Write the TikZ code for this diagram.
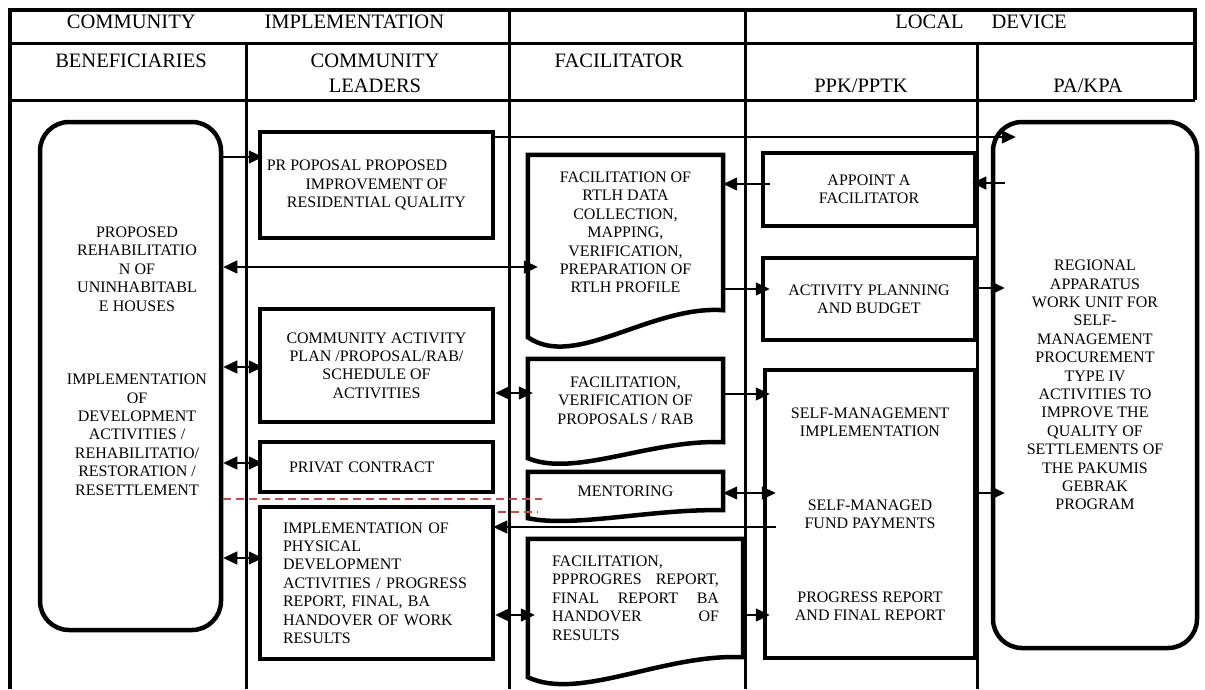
\documentclass[tikz,border=0pt]{standalone}
\usepackage{fontspec}
\setmainfont{Liberation Serif}
\usetikzlibrary{arrows.meta,calc}
\setlength\parindent{0pt}

\definecolor{flowInk}{RGB}{0,0,0}
\definecolor{flowDash}{RGB}{192,80,77}

\newcommand\docwave[3]{%
  \draw[docline] (#1.north west) -- (#1.north east) -- (#1.south east)
    .. controls +({-.37*#3},{-.19*#2}) and +({.24*#3},{1.22*#2}) ..
    ($(#1.south west)+(0,#2)$) -- cycle;}

\begin{document}
\begin{tikzpicture}[x=1pt,y=-1pt,
      hdr/.style={font=\fontsize{20.5}{25}\selectfont, align=center,
        inner sep=0pt},
      body/.style={font=\fontsize{16}{18.4}\selectfont, align=center,
        inner sep=0pt},
      task/.style={body, draw=flowInk, line width=4.5pt},
      soft/.style={task, rounded corners=29pt},
      docline/.style={draw=flowInk, line width=4.5pt, line join=miter},
      rule/.style={draw=flowInk, line width=3pt},
      frame/.style={draw=flowInk, line width=4pt},
      arr/.style={draw=flowInk, line width=1.4pt,
        -{Triangle[length=14pt,width=13pt]}, shorten >=-5pt},
      dbl/.style={arr,
        {Triangle[length=14pt,width=13pt]}-{Triangle[length=14pt,width=13pt]}},
      split/.style={draw=flowDash, line width=1.3pt,
        dash pattern=on 8pt off 5pt}]
      \useasboundingbox (0,0) rectangle (1205,689);
      \fill[white] (0,0) rectangle (1205,689);

      \foreach \xx in {246,509,745,977}{
        \draw[rule] (\xx,43) -- (\xx,689);}
      \foreach \xx in {509,745}{
        \draw[rule] (\xx,10) -- (\xx,43);}
      \draw[rule] (10,43) -- (1195,43);
      \draw[rule] (10,100) -- (1195,100);
      \draw[frame] (10,689) -- (10,10) -- (1195,10) -- (1195,100);

      \node[hdr] (hdrTop) at (255.5,22) {COMMUNITY\hspace{69pt}IMPLEMENTATION};
      \node[hdr] (hdrLocal) at (981,22) {LOCAL\hspace{28pt}DEVICE};
      \node[hdr] (hdrBen) at (131,61) {BENEFICIARIES};
      \node[hdr] (hdrLead) at (375,73.5) {COMMUNITY\\LEADERS};
      \node[hdr] (hdrFac) at (619,61) {FACILITATOR};
      \node[hdr] (hdrPpk) at (861,86) {PPK/PPTK};
      \node[hdr] (hdrPa) at (1088,86) {PA/KPA};

      \node[soft, minimum width=181pt, minimum height=508pt] (ben)
        at (130.5,376) {};
      \node[body] (bentxt) at (137,361) {PROPOSED\\REHABILITATIO\\N OF\\
        UNINHABITABL\\E HOUSES\\[55.2pt]IMPLEMENTATION\\OF\\DEVELOPMENT\\
        ACTIVITIES /\\REHABILITATIO/\\RESTORATION /\\RESETTLEMENT};

      \node[task, minimum width=233pt, minimum height=106pt] (prop)
        at (376.5,185) {\hspace*{-39pt}PR POPOSAL PROPOSED\\
        IMPROVEMENT OF\\RESIDENTIAL QUALITY};
      \node[task, minimum width=233pt, minimum height=113pt] (plan)
        at (376.5,365.5) {COMMUNITY ACTIVITY\\PLAN /PROPOSAL/RAB/\\
        SCHEDULE OF\\ACTIVITIES};
      \node[task, minimum width=233pt, minimum height=50pt, text width=175pt,
        align=left] (contract) at (376.5,467) {PRIVAT CONTRACT};
      \node[task, minimum width=233pt, minimum height=152pt, text width=187pt,
        align=left] (impl) at (376.5,583) {IMPLEMENTATION OF\\PHYSICAL\\
        DEVELOPMENT\\ACTIVITIES / PROGRESS\\REPORT, FINAL, BA\\
        HANDOVER OF WORK\\RESULTS};

      \node[body, minimum width=195pt, minimum height=155pt] (facData)
        at (625.5,232.5) {FACILITATION OF\\RTLH DATA\\COLLECTION,\\MAPPING,\\
        VERIFICATION,\\PREPARATION OF\\RTLH PROFILE};
      \docwave{facData}{27}{195}
      \node[body, minimum width=195pt, minimum height=83pt] (facProp)
        at (625.5,400.5) {FACILITATION,\\VERIFICATION OF\\PROPOSALS / RAB};
      \docwave{facProp}{16}{195}
      \node[body, minimum width=195pt, minimum height=38pt] (mentor)
        at (625.5,491) {MENTORING};
      \docwave{mentor}{8}{195}
      \node[body, minimum width=215pt, minimum height=118pt, text width=167pt,
        align=left] (facReport) at (635.5,598) {FACILITATION,\\
        PPPROGRES\hfill REPORT,\\FINAL\hfill REPORT\hfill BA\\
        HANDOVER\hfill OF\\RESULTS};
      \docwave{facReport}{20}{215}

      \node[task, minimum width=212pt, minimum height=73pt] (appoint)
        at (869,189.5) {APPOINT A\\FACILITATOR};
      \node[task, minimum width=212pt, minimum height=82pt] (budget)
        at (869,299) {ACTIVITY PLANNING\\AND BUDGET};
      \node[task, minimum width=210pt, minimum height=288pt] (selfmgmt)
        at (870,514) {SELF-MANAGEMENT\\IMPLEMENTATION\\[55.2pt]
        SELF-MANAGED\\FUND PAYMENTS\\[55.2pt]PROGRESS REPORT\\
        AND FINAL REPORT};
      \node[soft, minimum width=204pt, minimum height=526pt] (apparatus)
        at (1095,385) {REGIONAL\\APPARATUS\\WORK UNIT FOR\\SELF-\\MANAGEMENT\\
        PROCUREMENT\\TYPE IV\\ACTIVITIES TO\\IMPROVE THE\\QUALITY OF\\
        SETTLEMENTS OF\\THE PAKUMIS\\GEBRAK\\PROGRAM};

      \draw[arr] (ben.east |- 0,157) -- (prop.west |- 0,157);
      \draw[arr, shorten >=-25pt] (prop.east |- 0,137)
        -- (apparatus.west |- 0,137);
      \draw[dbl, shorten >=-10pt] (ben.east |- 0,267)
        -- (facData.west |- 0,267);
      \draw[arr, shorten <=-9pt, shorten >=0pt] (appoint.west |- 0,184)
        -- (facData.east |- 0,184);
      \draw[arr, shorten <=-14pt] (apparatus.west |- 0,183)
        -- (appoint.east |- 0,183);
      \draw[arr, shorten >=-9pt] (facData.east |- 0,289)
        -- (budget.west |- 0,289);
      \draw[arr, shorten >=-14pt] (budget.east |- 0,288)
        -- (apparatus.west |- 0,288);
      \draw[dbl] (ben.east |- 0,367) -- (plan.west |- 0,367);
      \draw[dbl] (plan.east |- 0,393) -- (facProp.west |- 0,393);
      \draw[arr, shorten >=-7pt] (facProp.east |- 0,394)
        -- (selfmgmt.west |- 0,394);
      \draw[dbl] (ben.east |- 0,463) -- (contract.west |- 0,463);
      \draw[dbl, shorten >=-13pt] (mentor.east |- 0,493)
        -- (selfmgmt.west |- 0,493);
      \draw[arr, shorten >=-14pt] (selfmgmt.east |- 0,493)
        -- (apparatus.west |- 0,493);
      \draw[arr, shorten <=-13pt, shorten >=-2pt] (selfmgmt.west |- 0,527)
        -- (impl.east |- 0,527);
      \draw[dbl] (ben.east |- 0,558) -- (impl.west |- 0,558);
      \draw[dbl, shorten >=-7pt] (impl.east |- 0,615)
        -- (facReport.west |- 0,615);
      \draw[arr, shorten >=-7pt] (facReport.east |- 0,615)
        -- (selfmgmt.west |- 0,615);

      \draw[split] (ben.east |- 0,499) -- (542,499);
      \draw[split] (498,512) -- (538,512);
    \end{tikzpicture}
\end{document}
